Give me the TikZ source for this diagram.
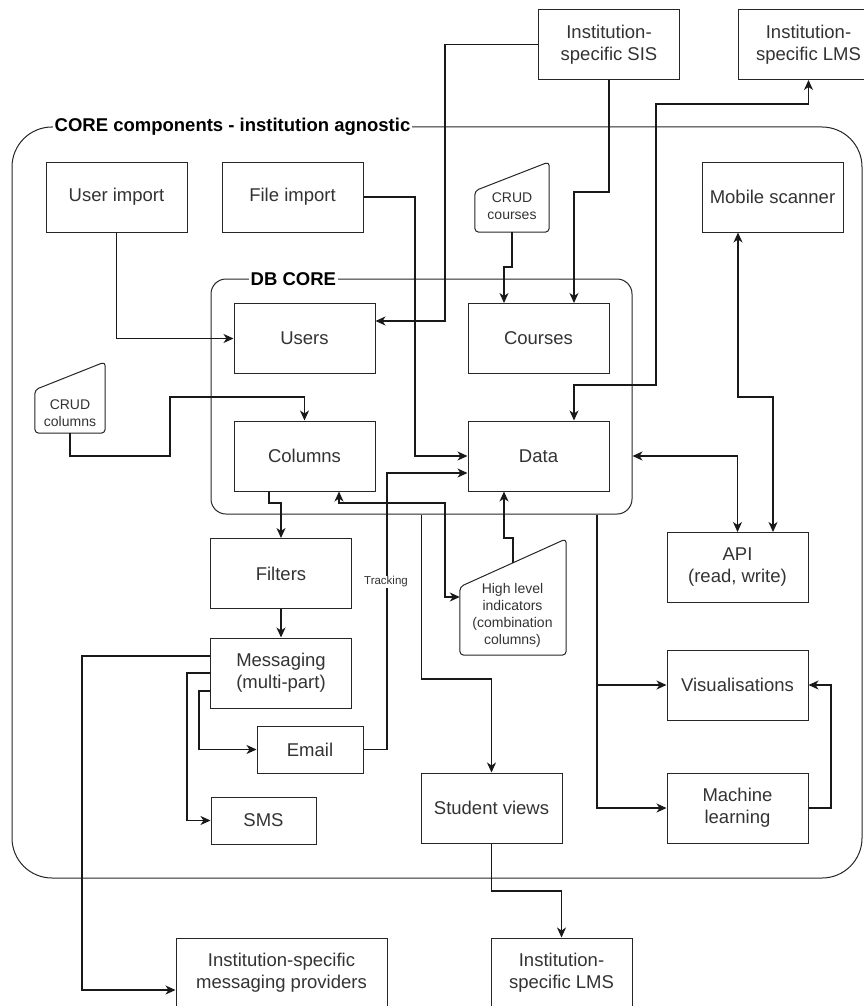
\documentclass[tikz,border=0pt]{standalone}
\usepackage{fontspec}
\setmainfont{Liberation Sans}
\usetikzlibrary{arrows.meta}

\tikzset{
  box/.style={draw=black!85, fill=white, line width=1pt, minimum width=141pt, minimum height=70pt,
    inner sep=0pt, align=center, text=black!80, font=\fontsize{18.5}{22}\selectfont},
  smallbox/.style={box, minimum width=106pt, minimum height=47pt},
  manin/.style={inner sep=0pt},
  manshape/.style={draw=black!85, fill=white, line width=1pt, rounded corners=4pt},
  mantext/.style={align=center, text=black!80, inner sep=0pt, font=\fontsize{14}{17}\selectfont},
  group/.style={draw=black!85, line width=1pt, inner sep=0pt},
  grouplabel/.style={fill=white, inner sep=1.5pt, anchor=west, font=\bfseries\fontsize{18.5}{22}\selectfont},
  link/.style={draw=black!90, line width=1.1pt, >={Stealth[length=10pt,width=9pt,inset=3pt]}},
}

\begin{document}
\begin{tikzpicture}[x=1pt,y=-1pt]
\useasboundingbox (0,0) rectangle (864,1006);

\node[group, rounded corners=40pt, minimum width=850pt, minimum height=751pt] (core) at (437,502.5) {};
\node[grouplabel] (corelbl) at (53,127) {CORE components - institution agnostic};
\node[group, rounded corners=15pt, minimum width=421pt, minimum height=235pt] (dbcore) at (421.5,396.5) {};
\node[grouplabel] (dblbl) at (249,279) {DB CORE};

\node[box] (sis) at (609,44.5) {Institution-\\specific SIS};
\node[box] (lmstop) at (808.5,44.5) {Institution-\\specific LMS};
\node[box] (uimp) at (116.5,197) {User import};
\node[box] (fimp) at (292.5,197) {File import};
\node[box] (mobile) at (772.5,197) {Mobile scanner};
\node[box] (users) at (304.5,338.5) {Users};
\node[box] (courses) at (538.5,338.5) {Courses};
\node[box] (columns) at (304.5,456) {Columns};
\node[box] (data) at (538.5,456) {Data};
\node[box] (filters) at (281,573.5) {Filters};
\node[box] (api) at (737.5,567.5) {API\\(read, write)};
\node[box] (msg) at (281,673) {Messaging\\(multi-part)};
\node[box] (vis) at (737.5,685) {Visualisations};
\node[smallbox] (email) at (310,749.5) {Email};
\node[smallbox, minimum width=105pt] (sms) at (263.5,820.5) {SMS};
\node[box] (stud) at (491.5,808) {Student views};
\node[box] (ml) at (737.5,808) {Machine\\learning};
\node[box, minimum width=211pt] (msgprov) at (281.5,973) {Institution-specific\\messaging providers};
\node[box] (lmsbot) at (561.5,973) {Institution-\\specific LMS};

% manual input shapes
\node[manin, minimum width=74pt, minimum height=70pt] (crudcrs) at (512,197) {};
\node[manin, minimum width=70pt, minimum height=71pt] (crudcol) at (70,397.5) {};
\node[manin, minimum width=106pt, minimum height=116pt] (hli) at (513,597) {};
\draw[manshape] (crudcrs.south west) -- (crudcrs.south east) -- (crudcrs.north east) -- ([yshift=-29pt]crudcrs.north west) -- cycle;
\draw[manshape] (crudcol.south west) -- (crudcol.south east) -- (crudcol.north east) -- ([yshift=-28pt]crudcol.north west) -- cycle;
\draw[manshape] (hli.south west) -- (hli.south east) -- (hli.north east) -- ([yshift=-48pt]hli.north west) -- cycle;
\node[mantext] (crudcrstxt) at (512,206.5) {CRUD\\courses};
\node[mantext] (crudcoltxt) at (70,413) {CRUD\\columns};
\node[mantext] (hlitxt) at (512.5,615) {High level\\indicators\\(combination\\columns)};

\draw[link,->] (uimp.south) |- (users.west);
\draw[link,->] (sis.west) -| (445,321) -- (users.east |- 0,321);
\draw[link,->] (fimp.east) -| (415,456) -- (data.west);
\draw[link,->] (crudcrs.south) |- (504,267) -- (courses.north -| 504,0);
\draw[link,->] (sis.south) |- (574,192) -- (courses.north -| 574,0);
\draw[link,<->] (data.north -| 574,0) |- (656,385) |- (lmstop.south |- 0,104) -- (lmstop.south);
\draw[link,->] (crudcol.south) |- (170,456) |- (columns.north |- 0,397) -- (columns.north);
\draw[link,->] (columns.south -| 269,0) |- (281,503) -- (filters.north);
\draw[link,<->] (columns.south -| 339,0) |- (445,503) |- (hli.west);
\draw[link,->] ([yshift=-24pt]hli.north) |- (504,538) -- (data.south -| 504,0);
\draw[link,<->] (dbcore.east |- 0,456) -| (api.north);
\draw[link,<->] (mobile.south -| 738,0) |- (773,397) -- (api.north -| 773,0);
\draw[link,->] (dbcore.south) |- (stud.north |- 0,679) -- (stud.north);
\draw[link,->] (dbcore.south -| 597,0) |- (vis.west);
\draw[link,->] (dbcore.south -| 597,0) |- (ml.west);
\draw[link,->] (ml.east) -| (831,685) -- (vis.east);
\draw[link,->] (filters.south) -- (msg.north);
\draw[link,->] (msg.west) -| (187,820.5) -- (sms.west);
\draw[link,->] (msg.west |- 0,691) -| (199,749.5) -- (email.west);
\draw[link,->] (msg.west |- 0,656) -| (82,990) -- (msgprov.west |- 0,990);
\draw[link,->] (email.east) -| (387,473) -- (data.west |- 0,473);
\node[font=\fontsize{11.5}{13}\selectfont, fill=white, inner sep=1pt, text=black!80] (trk) at (386,582) {Tracking};
\draw[link,->] (stud.south) |- (lmsbot.north |- 0,891) -- (lmsbot.north);
\end{tikzpicture}
\end{document}
